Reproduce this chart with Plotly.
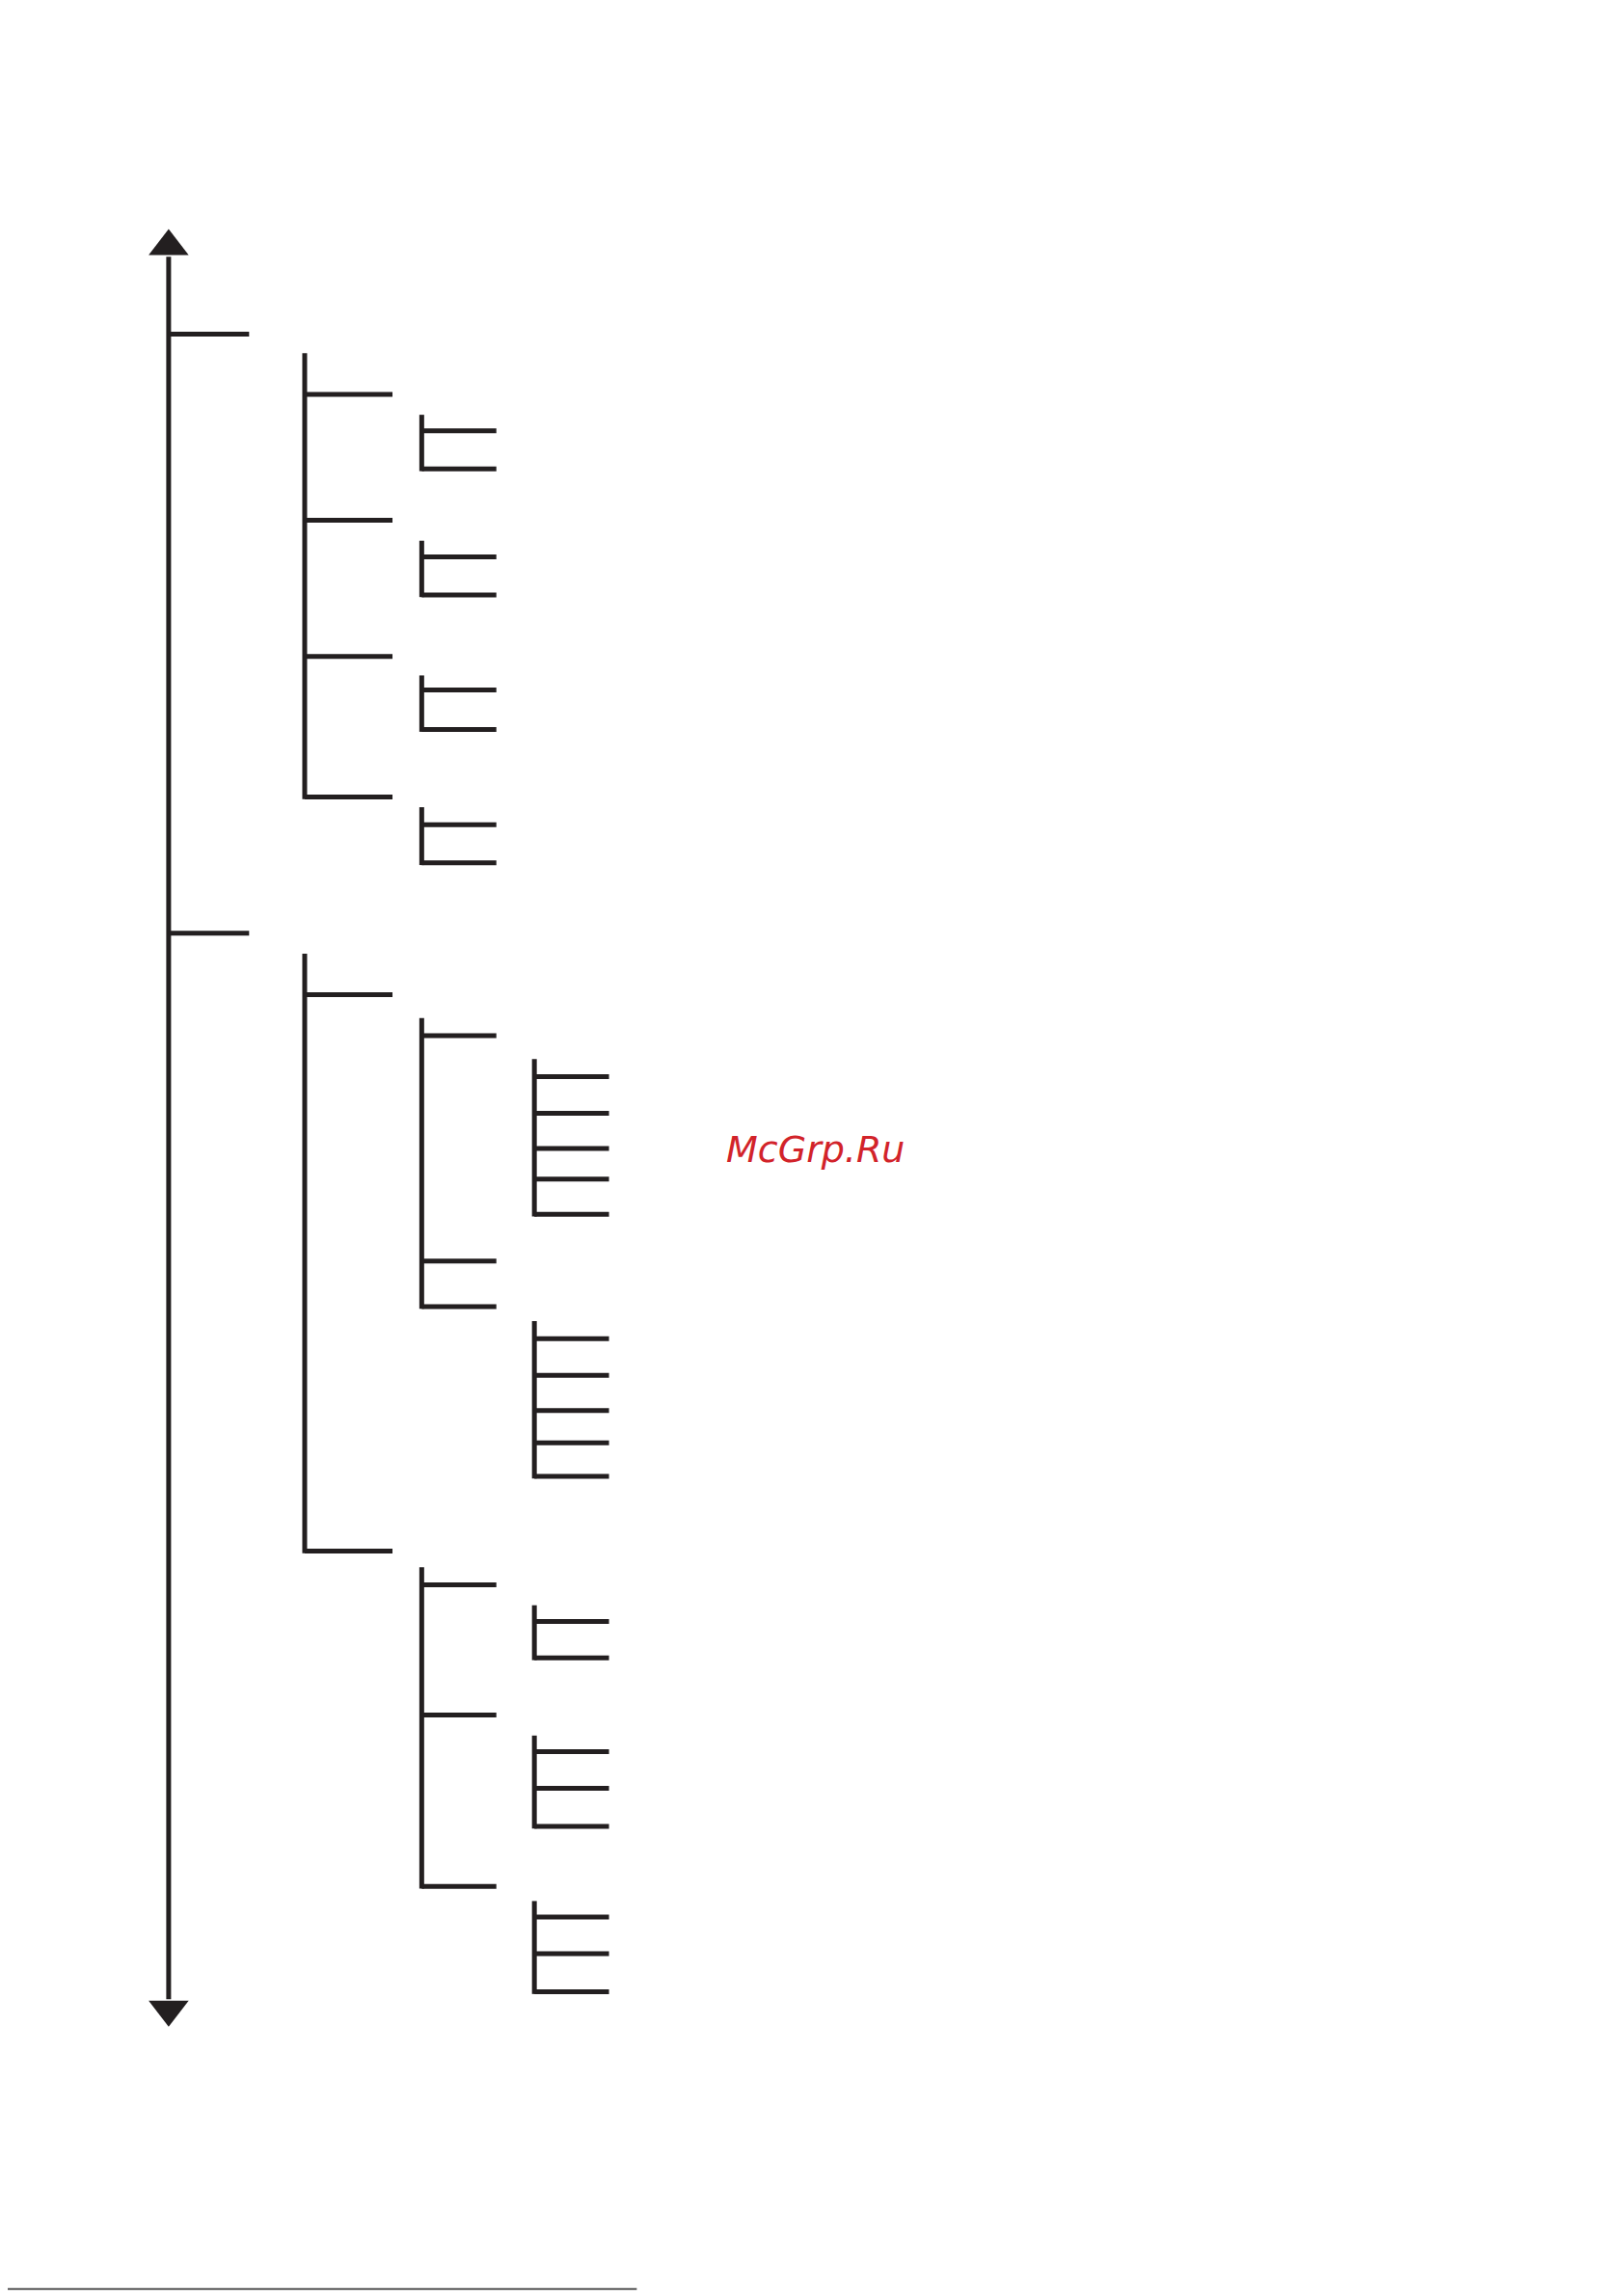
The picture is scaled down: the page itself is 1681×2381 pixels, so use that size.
import plotly.graph_objects as go

# Tree structure (coordinates in reference-image units, 1108x1568 canvas)
main_x = 115
main_span = [155, 1385]
level1_ticks = [228, 637]

# brackets: (x, y_top, tick_ys, tick_length)
brackets_l2 = [(208, 241, [269, 355, 448, 544], 60),
               (208, 651, [679, 1059], 60)]
brackets_l3 = [(288, 283, [294, 320], 51), (288, 369, [380, 406], 51),
               (288, 461, [471, 498], 51), (288, 551, [563, 589], 51),
               (288, 695, [707, 861, 892], 51), (288, 1070, [1082, 1171, 1288], 51)]
brackets_l4 = [(365, 723, [735, 760, 784, 805, 829], 51),
               (365, 902, [914, 939, 963, 985, 1008], 51),
               (365, 1096, [1107, 1132], 51),
               (365, 1185, [1196, 1221, 1247], 51),
               (365, 1298, [1309, 1334, 1360], 51)]
watermark = "McGrp.Ru"

xs, ys = [], []
def seg(x0, y0, x1, y1):
    xs.extend([x0, x1, None]); ys.extend([y0, y1, None])

seg(main_x, main_span[0] + 20, main_x, main_span[1] - 20)
for y in level1_ticks:
    seg(main_x, y, 170, y)
for x, yt, ticks, L in brackets_l2 + brackets_l3 + brackets_l4:
    seg(x, yt, x, max(ticks) + 1.5)
    for y in ticks:
        seg(x, y, x + L, y)

fig = go.Figure()
fig.add_trace(go.Scatter(x=xs, y=ys, mode="lines",
                         line=dict(color="#231f20", width=5), hoverinfo="skip"))
fig.add_trace(go.Scatter(x=[main_x, main_x], y=[main_span[0] + 13, main_span[1] - 13],
                         mode="markers",
                         marker=dict(symbol=["triangle-up", "triangle-down"], size=36,
                                     color="#231f20"), hoverinfo="skip"))
fig.add_trace(go.Scatter(x=[0, 435], y=[1563, 1563], mode="lines",
                         line=dict(color="#555", width=2), hoverinfo="skip"))
fig.add_annotation(x=557, y=785, text="<i>" + watermark + "</i>", showarrow=False,
                   font=dict(family="DejaVu Sans", size=38, color="#d2232a"))

fig.update_layout(width=1681, height=2381, margin=dict(l=0, r=0, t=0, b=0),
                  showlegend=False, plot_bgcolor="white", paper_bgcolor="white",
                  xaxis=dict(range=[5, 1113], visible=False),
                  yaxis=dict(range=[1573, 5], visible=False))
fig.write_html("out.html")
